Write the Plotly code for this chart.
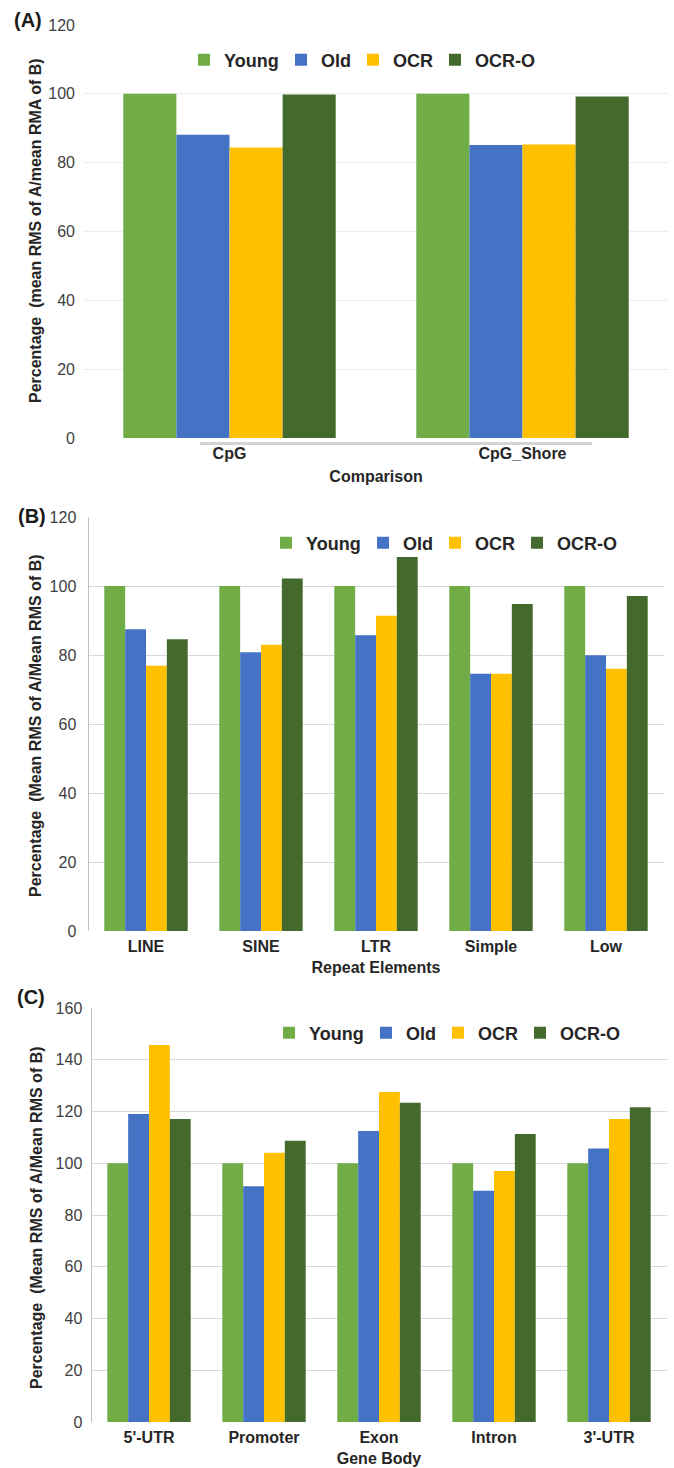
import plotly.graph_objects as go

W, H = 674, 1468

series = ["Young", "Old", "OCR", "OCR-O"]
colors = ["#70AD47", "#4472C4", "#FFC000", "#436A2C"]

# Panel A
cat_a = ["CpG", "CpG_Shore"]
young_a = [100, 100]
old_a = [88.1, 85.1]
ocr_a = [84.4, 85.3]
ocro_a = [99.8, 99.2]

# Panel B
cat_b = ["LINE", "SINE", "LTR", "Simple", "Low"]
young_b = [100, 100, 100, 100, 100]
old_b = [87.5, 80.8, 85.7, 74.6, 79.9]
ocr_b = [76.9, 83.0, 91.4, 74.6, 76.0]
ocro_b = [84.6, 102.2, 108.4, 94.8, 97.1]

# Panel C
cat_c = ["5'-UTR", "Promoter", "Exon", "Intron", "3'-UTR"]
young_c = [100, 100, 100, 100, 100]
old_c = [119.0, 91.1, 112.5, 89.4, 105.7]
ocr_c = [145.7, 104.1, 127.5, 97.0, 117.1]
ocro_c = [117.1, 108.7, 123.4, 111.3, 121.6]

FONT = "Liberation Sans, Arial, sans-serif"
LEG_SIZE = 18
# legend entry spacing (px) per series, slightly tighter than the text
leg_widths = [52, 27, 37, 56]

def px(x):
    return x / W

def py(y):
    return 1 - y / H

fig = go.Figure()

panels = [
    (cat_a, [young_a, old_a, ocr_a, ocro_a], "x", "y", "legend"),
    (cat_b, [young_b, old_b, ocr_b, ocro_b], "x2", "y2", "legend2"),
    (cat_c, [young_c, old_c, ocr_c, ocro_c], "x3", "y3", "legend3"),
]
for cats, vals, xa, ya, lg in panels:
    for name, col, v, lw in zip(series, colors, vals, leg_widths):
        fig.add_trace(go.Bar(
            x=cats, y=v, name=name, marker=dict(color=col, line=dict(width=0)),
            xaxis=xa, yaxis=ya, legend=lg, legendwidth=lw, hoverinfo="skip",
        ))

tickfont_x = dict(family=FONT, size=16, color="#262626", weight="bold")
titlefont = dict(family=FONT, size=16, color="#262626", weight="bold")
legfont = dict(family=FONT, size=LEG_SIZE, color="#262626", weight="bold")

common_x = dict(type="category", showgrid=False, zeroline=False, ticks="",
                tickfont=tickfont_x, automargin=False, fixedrange=True,
                showline=False, ticklabelstandoff=4)

def ycommon(standoff):
    return dict(dtick=20, zeroline=False, ticks="", automargin=False,
                tickfont=dict(family=FONT, size=16, color="#404040"),
                ticklabelstandoff=standoff, fixedrange=True)

yt_a = "Percentage\u00a0 (mean RMS of A/mean RMA of B)"
yt_b = "Percentage\u00a0 (Mean RMS of A/Mean RMS of B)"

def ytitle(text, ycenter):
    return dict(text=text, x=px(36), y=py(ycenter), xref="paper", yref="paper",
                xanchor="center", yanchor="middle", textangle=-90, showarrow=False,
                font=titlefont)

def plabel(text, x, y):
    return dict(text=text, x=px(x), y=py(y), xref="paper", yref="paper",
                xanchor="center", yanchor="middle", showarrow=False,
                font=dict(family=FONT, size=20, color="#1a1a1a", weight="bold"))

def legend_at(x, y):
    return dict(orientation="h", x=px(x), xanchor="left", y=py(y), yanchor="middle",
                font=legfont, bgcolor="rgba(0,0,0,0)", traceorder="normal",
                entrywidthmode="pixels")

fig.update_layout(
    width=W, height=H, autosize=False,
    margin=dict(l=0, r=0, t=0, b=0),
    paper_bgcolor="white", plot_bgcolor="white",
    barmode="group", bargap=0.275, bargroupgap=0,
    font=dict(family=FONT),
    xaxis=dict(common_x, domain=[px(83), px(669)], range=[-0.5, 1.5], anchor="y",
               title=dict(text="Comparison", font=titlefont, standoff=9)),
    yaxis=dict(ycommon(7), domain=[py(438), py(25)], range=[0, 120], anchor="x",
               gridcolor="#ededed", showline=False),
    xaxis2=dict(common_x, domain=[px(88.5), px(663.5)], range=[-0.5, 4.5], anchor="y2",
                title=dict(text="Repeat Elements", font=titlefont, standoff=7)),
    yaxis2=dict(ycommon(8), domain=[py(931), py(517)], range=[0, 120], anchor="x2",
                gridcolor="#d9d9d9", showline=True, linecolor="#bfbfbf"),
    xaxis3=dict(common_x, domain=[px(91.5), px(666.5)], range=[-0.5, 4.5], anchor="y3",
                title=dict(text="Gene Body", font=titlefont, standoff=7)),
    yaxis3=dict(ycommon(5), domain=[py(1422), py(1008)], range=[0, 160], anchor="x3",
                gridcolor="#d9d9d9", showline=True, linecolor="#bfbfbf"),
    legend=legend_at(184, 60),
    legend2=legend_at(266, 543),
    legend3=legend_at(269, 1033),
    annotations=[
        plabel("(A)", 28, 20),
        plabel("(B)", 32, 516),
        plabel("(C)", 31, 997),
        ytitle(yt_a, 231),
        ytitle(yt_b, 726),
        ytitle(yt_b, 1218),
    ],
    shapes=[
        dict(type="line", xref="paper", yref="paper", x0=px(200), x1=px(592),
             y0=py(443.5), y1=py(443.5), line=dict(color="#d4d4d4", width=3)),
    ],
)

fig.write_html(
    "out.html",
    config={"displayModeBar": False, "staticPlot": True},
    post_script="document.body.style.margin='0';document.body.style.overflow='hidden';",
)
